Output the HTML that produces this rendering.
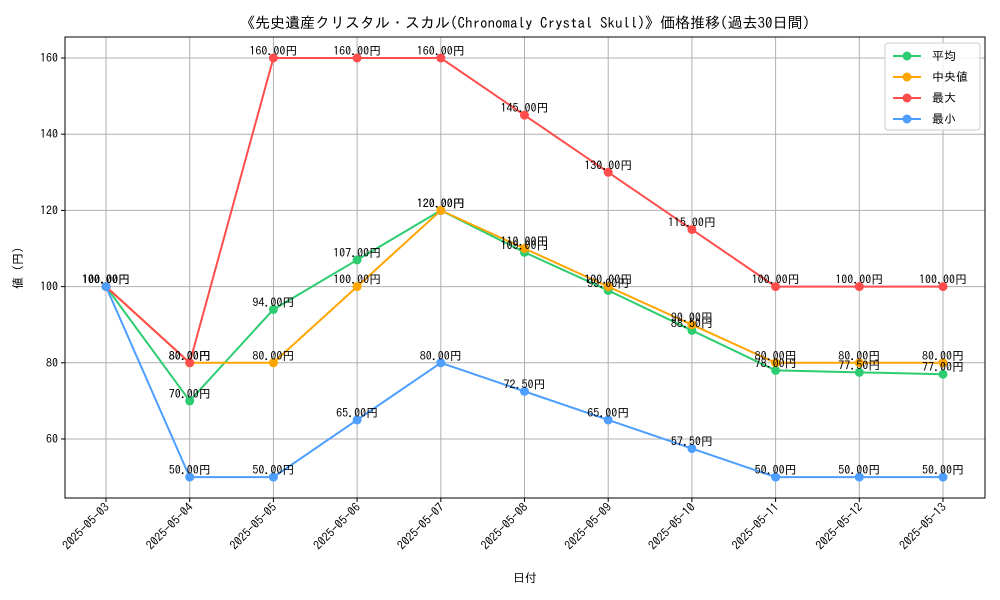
<!DOCTYPE html>
<html><head><meta charset="utf-8"><style>
html,body{margin:0;padding:0;background:#fff;}
svg{display:block;font-family:"IPAGothic","Liberation Sans",sans-serif;}
</style></head><body>
<svg id="chart" width="1000" height="600" xmlns="http://www.w3.org/2000/svg">
<rect width="1000" height="600" fill="#fff"/>
<text x="525" y="28" text-anchor="middle" font-size="15">《先史遺産クリスタル・スカル(Chronomaly Crystal Skull)》価格推移(過去30日間)</text>
<g id="grid"></g>
<g id="series"></g>
<rect x="65" y="37" width="920" height="461" fill="none" stroke="#000" stroke-width="1"/>
<g id="axes"></g>
<text x="525" y="582" text-anchor="middle" font-size="12">日付</text>
<text transform="translate(22,268) rotate(-90)" text-anchor="middle" font-size="12">値 (円)</text>
<g id="legend">
<rect x="885" y="43" width="95" height="87" fill="#fff" fill-opacity="0.8" stroke="#ccc" rx="3"/>
</g>
</svg>
<script>
const categories=["2025-05-03","2025-05-04","2025-05-05","2025-05-06","2025-05-07","2025-05-08","2025-05-09","2025-05-10","2025-05-11","2025-05-12","2025-05-13"];
const avgValues=[100,70,94,107,120,109,99,88.5,78,77.5,77];
const medianValues=[100,80,80,100,120,110,100,90,80,80,80];
const maxValues=[100,80,160,160,160,145,130,115,100,100,100];
const minValues=[100,50,50,65,80,72.5,65,57.5,50,50,50];
const yTicks=[60,80,100,120,140,160];
const seriesNames=["平均","中央値","最大","最小"];
const NS="http://www.w3.org/2000/svg";
function xs(i){return 106+i*(943-106)/(categories.length-1);}
function ys(v){return 439-(v-60)*(439-58)/100;}
function mk(tag,attrs,parent){const e=document.createElementNS(NS,tag);for(const k in attrs)e.setAttribute(k,attrs[k]);parent.appendChild(e);return e;}
const grid=document.getElementById('grid'),axes=document.getElementById('axes'),sg=document.getElementById('series'),lg=document.getElementById('legend');
categories.forEach((c,i)=>{
  const l=mk('line',{x1:xs(i),x2:xs(i),y1:37,y2:498,stroke:'#b0b0b0','stroke-width':1},grid);
  
  
  mk('line',{x1:xs(i),x2:xs(i),y1:498,y2:502,stroke:'#000'},axes);
  const t=mk('text',{x:xs(i)+4,y:508,'font-size':12,'text-anchor':'end',transform:`rotate(-45 ${xs(i)+4} 508)`},axes);
  t.textContent=c;
  
  
});
yTicks.forEach(v=>{
  const l=mk('line',{x1:65,x2:985,y1:ys(v),y2:ys(v),stroke:'#b0b0b0','stroke-width':1},grid);
  
  
  mk('line',{x1:61,x2:65,y1:ys(v),y2:ys(v),stroke:'#000'},axes);
  const t=mk('text',{x:58,y:ys(v)+4,'font-size':12,'text-anchor':'end'},axes);
  t.textContent=v;
  
  
});
const all=[[avgValues,'#2ecc71'],[medianValues,'#ffa500'],[maxValues,'#ff4d4d'],[minValues,'#4d9eff']];
const keys=['average','median','max','min'];
all.forEach(([vals,col],si)=>{
  const g=mk('g',{},sg);
  
  
  const p=mk('polyline',{points:vals.map((v,i)=>xs(i)+','+ys(v)).join(' '),fill:'none',stroke:col,'stroke-width':2},g);
  
  
  vals.forEach((v,i)=>{
    const c=mk('circle',{cx:xs(i),cy:ys(v),r:4.5,fill:col},g);
    
    
  });
});
all.forEach(([vals,col],si)=>{
  vals.forEach((v,i)=>{
    const t=mk('text',{x:xs(i),y:ys(v)-3,'font-size':12,'text-anchor':'middle'},sg);
    t.textContent=v.toFixed(2)+'円';
    
    
  });
});
all.forEach(([vals,col],si)=>{
  const y=56+si*21;
  const g=mk('g',{},lg);
  
  
  mk('line',{x1:893,x2:921,y1:y,y2:y,stroke:col,'stroke-width':2},g);
  mk('circle',{cx:907,cy:y,r:4.5,fill:col},g);
  const t=mk('text',{x:932,y:y+4,'font-size':12},g);
  t.textContent=seriesNames[si];
});
</script>
</body></html>
